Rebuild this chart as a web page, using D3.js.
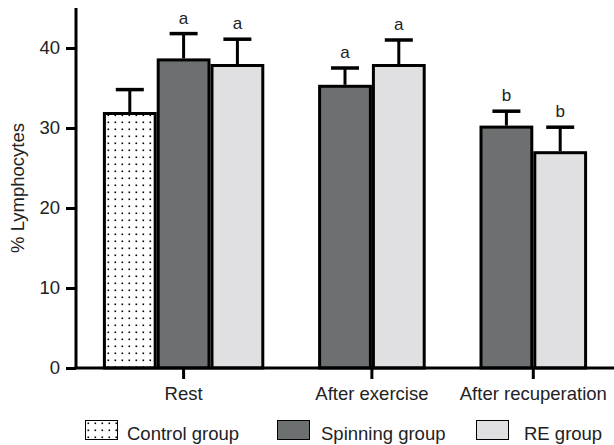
<!DOCTYPE html>
<html><head><meta charset="utf-8">
<script src="https://cdn.jsdelivr.net/npm/d3@7"></script>
<style>body{margin:0;background:#fff}svg{display:block}text{font-family:"Liberation Sans",Arial,Helvetica,sans-serif;fill:#222}</style>
</head><body>
<script>
const categories = ["Rest", "After exercise", "After recuperation"];
const seriesNames = ["Control group", "Spinning group", "RE group"];
const controlMean = [32.0, null, null];
const controlErr = [2.8, null, null];
const spinningMean = [38.7, 35.4, 30.3];
const spinningErr = [3.1, 2.1, 1.8];
const reMean = [38.0, 38.0, 27.1];
const reErr = [3.1, 3.0, 3.0];
const controlLetters = [null, null, null];
const spinningLetters = ["a", "a", "b"];
const reLetters = ["a", "a", "b"];
const yTicks = [0, 10, 20, 30, 40];

const W = 614, H = 445;
const svg = d3.select("body").append("svg").attr("width", W).attr("height", H);
const defs = svg.append("defs");
const pat = defs.append("pattern").attr("id", "dots").attr("patternUnits", "userSpaceOnUse")
  .attr("width", 7).attr("height", 7).attr("x", 0).attr("y", 0);
pat.append("rect").attr("width", 7).attr("height", 7).attr("fill", "#fff");
pat.append("rect").attr("x", 2.5).attr("y", 2.5).attr("width", 1.6).attr("height", 1.6).attr("fill", "#000");

const fills = ["url(#dots)", "#6d7070", "#e0e0e2"];
const means = [controlMean, spinningMean, reMean];
const errs = [controlErr, spinningErr, reErr];
const letters = [controlLetters, spinningLetters, reLetters];

// build bars with slot ids
const bars = [];
const slots = [];
const catCenters = [];
categories.forEach((c, ci) => {
  const catSlots = [];
  seriesNames.forEach((s, si) => {
    const v = means[si][ci];
    if (v == null) return;
    const id = c + "|" + s;
    slots.push(id); catSlots.push(id);
    bars.push({id, cat: c, si, v, e: errs[si][ci], l: letters[si][ci]});
  });
  catCenters.push({c, slots: catSlots});
  if (ci < categories.length - 1) slots.push("gap" + ci);
});

const x = d3.scaleBand().domain(slots).range([76, 614]).paddingInner(0).paddingOuter(0.5);
const y = d3.scaleLinear().domain([0, 45]).range([368, 8]);
const bw = x.bandwidth();

const g = svg.append("g");
// bars
g.selectAll("rect.bar").data(bars).join("rect").attr("class", "bar")
  .attr("x", d => x(d.id) + 1.5).attr("width", bw - 3)
  .attr("y", d => y(d.v) + 1.5).attr("height", d => y(0) - y(d.v) - 1.5)
  .attr("fill", d => fills[d.si]).attr("stroke", "#000").attr("stroke-width", 3);
// error bars
const eb = g.selectAll("g.err").data(bars).join("g").attr("class", "err");
eb.append("line").attr("x1", d => x(d.id) + bw / 2).attr("x2", d => x(d.id) + bw / 2)
  .attr("y1", d => y(d.v)).attr("y2", d => y(d.v + d.e)).attr("stroke", "#000").attr("stroke-width", 3);
eb.append("line").attr("x1", d => x(d.id) + bw / 2 - 14).attr("x2", d => x(d.id) + bw / 2 + 14)
  .attr("y1", d => y(d.v + d.e)).attr("y2", d => y(d.v + d.e)).attr("stroke", "#000").attr("stroke-width", 3.5);
// letters
g.selectAll("text.let").data(bars.filter(d => d.l)).join("text").attr("class", "let")
  .attr("x", d => x(d.id) + bw / 2).attr("y", d => y(d.v + d.e) - 10)
  .attr("text-anchor", "middle").attr("font-size", 17).text(d => d.l);

// y axis
const ya = svg.append("g").attr("transform", "translate(76,0)")
  .call(d3.axisLeft(y).tickValues(yTicks).tickSize(10).tickPadding(6));
ya.select(".domain").attr("d", `M0,${y(45)}V${y(0)}`).attr("stroke", "#000").attr("stroke-width", 3);
ya.selectAll(".tick line").attr("stroke", "#000").attr("stroke-width", 3);
ya.selectAll(".tick text").attr("font-size", 18.5).attr("fill", "#222").attr("font-family", "Liberation Sans, Arial, sans-serif");

// x axis
const centerOf = c => {
  const s = catCenters.find(k => k.c === c).slots;
  return (x(s[0]) + x(s[s.length - 1]) + bw) / 2;
};
const xa = svg.append("g").attr("transform", `translate(0,${y(0)})`);
xa.append("line").attr("x1", 74.5).attr("x2", 614).attr("stroke", "#000").attr("stroke-width", 3);
const xt = xa.selectAll("g.xt").data(categories).join("g").attr("class", "xt")
  .attr("transform", c => `translate(${centerOf(c)},0)`);
xt.append("line").attr("y1", 0).attr("y2", 11).attr("stroke", "#000").attr("stroke-width", 3);
xt.append("text").attr("y", 32).attr("text-anchor", "middle").attr("font-size", 18.5).text(c => c);

// y label
svg.append("text").attr("transform", "translate(24,188) rotate(-90)").attr("text-anchor", "middle")
  .attr("font-size", 18.5).text("% Lymphocytes");

// legend
const legX = [85, 277, 476];
const legTX = [127, 321, 524];
const leg = svg.selectAll("g.leg").data(seriesNames).join("g").attr("class", "leg")
  .attr("transform", (d, i) => `translate(${legX[i]},420)`);
leg.append("rect").attr("x", 0.5).attr("y", 0.5).attr("width", 32).attr("height", 19)
  .attr("fill", (d, i) => fills[i]).attr("stroke", "#000").attr("stroke-width", 1);
leg.append("text").attr("x", (d, i) => legTX[i] - legX[i]).attr("y", 20).attr("font-size", 18.5).text(d => d);
</script>
</body></html>
